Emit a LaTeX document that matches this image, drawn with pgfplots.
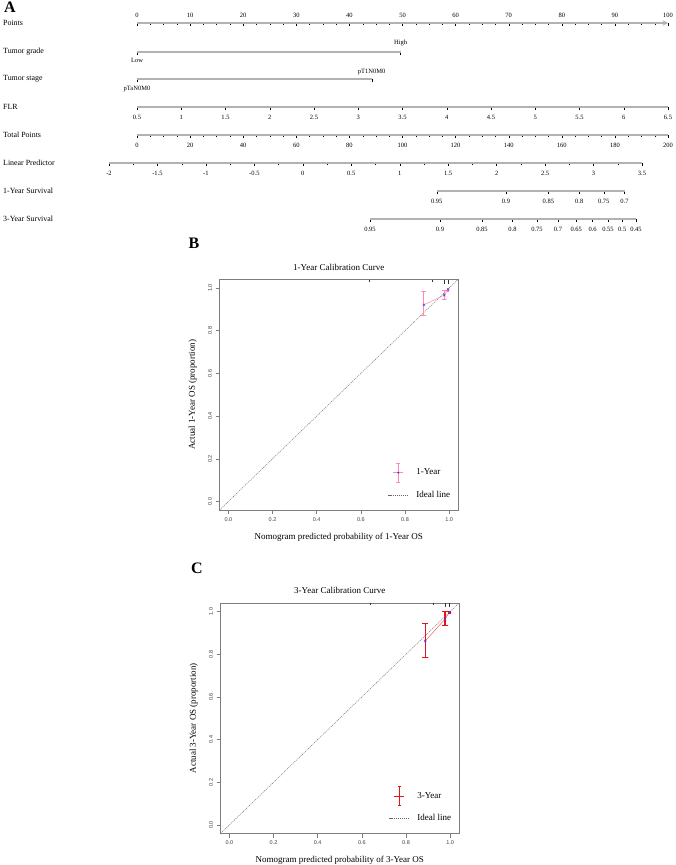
\documentclass[border=0pt]{standalone}
\usepackage{fontspec}
\setmainfont{Liberation Serif}
\newfontfamily\sansf{Liberation Sans}
\usepackage{pgfplots}
\pgfplotsset{compat=1.18}
\definecolor{nomoline}{RGB}{178,178,178}
\definecolor{pinkc}{RGB}{255,140,170}
\definecolor{redc}{RGB}{228,20,30}
\definecolor{redl}{RGB}{255,110,110}
\definecolor{bluec}{RGB}{80,60,230}
\definecolor{boxgray}{RGB}{125,125,125}
\newcommand\nomotick{\fontsize{6.5}{7}\selectfont}
\newcommand\rowf{\fontsize{7.9}{9}\selectfont}
\tikzset{diag/.style={black!60, line width=0.4pt, dash pattern=on 1.2pt off 0.9pt}}
\pgfplotsset{
 nomo/.style={scale only axis, height=1pt, ymin=0, ymax=1,
   axis y line=none, axis x line=bottom,
   axis line style={-, draw=nomoline, line width=1.4pt},
   tick style={black, line width=0.35pt},
   major tick length=3pt, minor tick length=2pt,
   tick align=outside,
   xticklabel style={font=\nomotick, text=black, anchor=center, yshift=-7pt},
   /pgf/number format/assume math mode=true,
   anchor=south west, clip=false},
 nomotop/.style={nomo, axis x line=top, tick align=inside, anchor=north west,
   xticklabel style={yshift=15pt}},
 calib/.style={scale only axis, width=238.5pt, height=230.5pt, anchor=north west,
   xmin=-0.04, xmax=1.04, ymin=-0.04, ymax=1.04,
   axis line style={boxgray, line width=0.5pt},
   tick style={boxgray, line width=0.5pt},
   tick align=outside, major tick length=4pt,
   xtick pos=left, ytick pos=left,
   xtick={0,0.2,0.4,0.6,0.8,1}, xticklabels={0.0,0.2,0.4,0.6,0.8,1.0},
   ytick={0,0.2,0.4,0.6,0.8,1}, yticklabels={0.0,0.2,0.4,0.6,0.8,1.0},
   ticklabel style={font=\sansf\fontsize{5.5}{6}\selectfont, text=black!75},
   yticklabel style={rotate=90, anchor=south},
   title style={font=\fontsize{9}{11}\selectfont, at={(axis description cs:0.5,1)}, anchor=center, yshift=6.5pt},
   label style={font=\fontsize{9}{11}\selectfont},
   xlabel style={at={(axis description cs:0.5,-0.118)}, anchor=center},
   ylabel style={at={(axis description cs:-0.112,0.5)}, anchor=center},
   legend style={draw=none, fill=none, font=\fontsize{9}{11}\selectfont,
     at={(axis cs:0.709,0.172)}, anchor=north west, row sep=10.5pt,
     nodes={inner sep=2pt}},
   legend cell align=left,
   clip=false},
}
\begin{document}
\begin{tikzpicture}[x=1pt,y=1pt]
\useasboundingbox (0,0) rectangle (675,-865);
\node[anchor=north west, font=\fontsize{16}{16}\selectfont\bfseries, inner sep=0] at (4,-2) {A};
\node[anchor=center, font=\fontsize{16}{16}\selectfont\bfseries, inner sep=0] at (194,-243) {B};
\node[anchor=center, font=\fontsize{16}{16}\selectfont\bfseries, inner sep=0] at (197,-568) {C};
\foreach \t/\y in {Points/23, Tumor grade/52, Tumor stage/79, FLR/107, Total Points/135, Linear Predictor/163, 1-Year Survival/191, 3-Year Survival/219}
  \node[anchor=west, font=\rowf, inner sep=0] at (3,-\y) {\t};

% Points
\begin{axis}[nomotop, at={(137pt,-23pt)}, width=531pt, xmin=0, xmax=100,
  xtick={0,10,...,100}, minor x tick num=3]
\end{axis}
% Tumor grade
\begin{axis}[nomo, at={(137pt,-52pt)}, width=263.5pt, xmin=0, xmax=49.6,
  xtick={0,49.6}, xticklabels={}]
\node[font=\nomotick, anchor=center, yshift=-8pt] at (axis cs:0,0) {Low};
\node[font=\nomotick, anchor=center, yshift=9pt] at (axis cs:49.6,0) {High};
\end{axis}
% Tumor stage
\begin{axis}[nomo, at={(137pt,-79pt)}, width=234.7pt, xmin=0, xmax=44.2,
  xtick={0,44.2}, xticklabels={}]
\node[font=\nomotick, anchor=center, yshift=-10pt] at (axis cs:0,0) {pTaN0M0};
\node[font=\nomotick, anchor=center, yshift=7pt] at (axis cs:44.2,0) {pT1N0M0};
\end{axis}
% FLR
\begin{axis}[nomo, at={(137pt,-107pt)}, width=531pt, xmin=0.5, xmax=6.5,
  xtick={0.5,1,1.5,2,2.5,3,3.5,4,4.5,5,5.5,6,6.5}]
\end{axis}
% Total points
\begin{axis}[nomo, at={(137pt,-135pt)}, width=531pt, xmin=0, xmax=200,
  xtick={0,20,...,200}, minor x tick num=3]
\end{axis}
% Linear predictor
\begin{axis}[nomo, at={(109pt,-163pt)}, width=533pt, xmin=-2, xmax=3.5,
  xtick={-2,-1.5,-1,-0.5,0,0.5,1,1.5,2,2.5,3,3.5}, minor x tick num=1]
\end{axis}
% 1-year survival
\begin{axis}[nomo, at={(436.7pt,-191pt)}, width=187.8pt, xmin=436.7, xmax=624.5,
  xtick={436.7,506,548.4,579.2,603.8,624.5},
  xticklabels={0.95,0.9,0.85,0.8,0.75,0.7}]
\end{axis}
% 3-year survival
\begin{axis}[nomo, at={(370pt,-219pt)}, width=266pt, xmin=370, xmax=636,
  xtick={370,440,482,512.5,537,558,576.2,592.6,608,622.2,636},
  xticklabels={0.95,0.9,0.85,0.8,0.75,0.7,0.65,0.6,0.55,0.5,0.45}]
\end{axis}

% ---------- B ----------
\begin{axis}[calib, at={(219.5pt,-279.5pt)},
  title={1-Year Calibration Curve},
  xlabel={Nomogram predicted probability of 1-Year OS},
  ylabel={Actual 1-Year OS (proportion)}]
\addlegendimage{legend image code/.code={
  \draw[pinkc, line width=0.5pt, overlay] (10pt,-9.5pt)--(10pt,9.5pt)
     (8pt,-9.5pt)--(12pt,-9.5pt) (8pt,9.5pt)--(12pt,9.5pt) (5pt,0pt)--(15pt,0pt);
  \fill[bluec, overlay] (10pt,0pt) circle (0.8pt);
  \path[draw=none, fill=none] (0pt,0pt)--(26pt,0pt);}}
\addlegendentry{1-Year}
\addplot[diag, legend image code/.code={\draw[diag] (0pt,0pt)--(20pt,0pt);
  \path[draw=none, fill=none] (0pt,0pt)--(26pt,0pt);}]
  coordinates {(-0.04,-0.04) (1.04,1.04)};
\addlegendentry{Ideal line}
% rug of predictions at top
\addplot[black!80, line width=0.4pt, forget plot] coordinates {(0.636,1.04) (0.636,1.03)};
\addplot[black!80, line width=0.4pt, forget plot] coordinates {(0.924,1.04) (0.924,1.03)};
\addplot[black!80, line width=0.4pt, forget plot] coordinates {(0.978,1.04) (0.978,1.02)};
\addplot[black!80, line width=0.4pt, forget plot] coordinates {(0.995,1.04) (0.995,1.02)};
% calibration line with points
\addplot[draw=pinkc, line width=0.5pt, forget plot, mark=x,
  mark options={draw=bluec, solid, line width=0.5pt, mark size=1.6pt}]
  coordinates {(0.885,0.921) (0.978,0.967) (0.995,0.993)};
% confidence intervals (bar with caps)
\addplot[draw=pinkc, line width=0.6pt, forget plot]
  coordinates {(0.990,0.987) (1.000,0.987) (0.995,0.987) (0.995,0.998) (0.990,0.998) (1.000,0.998)};
\addplot[draw=pinkc, line width=0.6pt, forget plot]
  coordinates {(0.967,0.945) (0.989,0.945) (0.978,0.945) (0.978,0.989) (0.967,0.989) (0.989,0.989)};
\addplot[draw=pinkc, line width=0.6pt, forget plot]
  coordinates {(0.874,0.872) (0.896,0.872) (0.885,0.872) (0.885,0.983) (0.874,0.983) (0.896,0.983)};
\end{axis}

% ---------- C ----------
\begin{axis}[calib, at={(220.5pt,-603pt)},
  title={3-Year Calibration Curve},
  xlabel={Nomogram predicted probability of 3-Year OS},
  ylabel={Actual 3-Year OS (proportion)}]
\addlegendimage{legend image code/.code={
  \draw[redc, line width=1pt, overlay] (10pt,-9.5pt)--(10pt,9.5pt)
     (5pt,0pt)--(15pt,0pt);
  \draw[redc, line width=0.6pt, overlay] (8.5pt,-9.5pt)--(11.5pt,-9.5pt) (8.5pt,9.5pt)--(11.5pt,9.5pt);
  \path[draw=none, fill=none] (0pt,0pt)--(26pt,0pt);}}
\addlegendentry{3-Year}
\addplot[diag, legend image code/.code={\draw[diag] (0pt,0pt)--(20pt,0pt);
  \path[draw=none, fill=none] (0pt,0pt)--(26pt,0pt);}]
  coordinates {(-0.04,-0.04) (1.04,1.04)};
\addlegendentry{Ideal line}
\addplot[black!80, line width=0.4pt, forget plot] coordinates {(0.636,1.04) (0.636,1.03)};
\addplot[black!80, line width=0.4pt, forget plot] coordinates {(0.924,1.04) (0.924,1.03)};
\addplot[black!80, line width=0.4pt, forget plot] coordinates {(0.978,1.04) (0.978,1.02)};
\addplot[black!80, line width=0.4pt, forget plot] coordinates {(0.995,1.04) (0.995,1.02)};
\addplot[draw=redl, line width=0.6pt, forget plot, mark=x,
  mark options={draw=bluec, solid, line width=0.5pt, mark size=1.6pt}]
  coordinates {(0.887,0.862) (0.977,0.965) (0.997,0.997)};
\addplot[draw=redc, line width=1.3pt, forget plot]
  coordinates {(0.990,0.993) (1.004,0.993) (0.997,0.993) (0.997,1.0) (0.990,1.0) (1.004,1.0)};
\addplot[draw=redc, line width=1.3pt, forget plot]
  coordinates {(0.963,0.936) (0.991,0.936) (0.977,0.936) (0.977,1.0) (0.963,1.0) (0.991,1.0)};
\addplot[draw=redc, line width=1.3pt, forget plot]
  coordinates {(0.873,0.784) (0.901,0.784) (0.887,0.784) (0.887,0.945) (0.873,0.945) (0.901,0.945)};
\end{axis}
\end{tikzpicture}
\end{document}
